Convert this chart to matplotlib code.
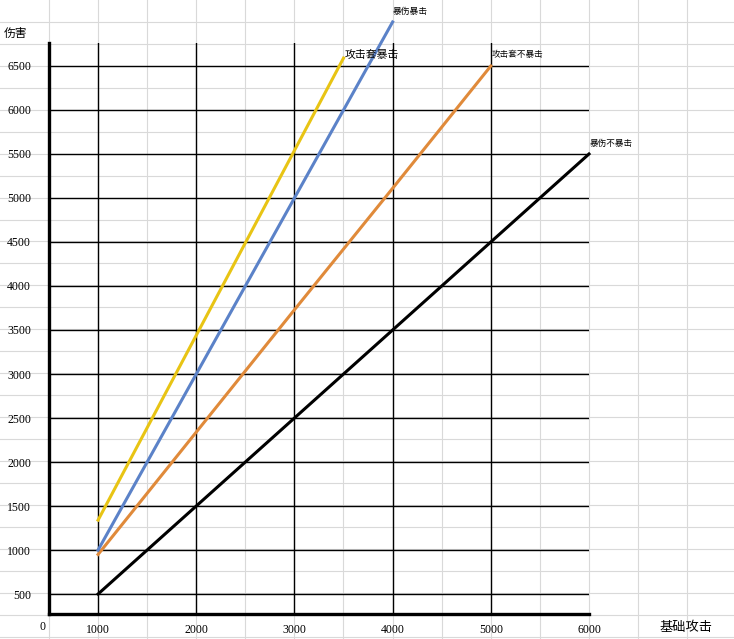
import matplotlib
matplotlib.use("Agg")
import matplotlib.pyplot as plt

plt.rcParams['font.family'] = ['Liberation Serif', 'Noto Sans CJK SC', 'DejaVu Sans']

# data
atk = [1000, 2000, 3000, 4000, 5000, 6000]
crit_dmg_no_crit = [500, 1500, 2500, 3500, 4500, 5500]      # 暴伤不暴击
atk_set_no_crit_x = [1000, 2000, 3000, 4000, 5000]
atk_set_no_crit = [950, 2340, 3730, 5110, 6500]             # 攻击套不暴击
crit_dmg_crit_x = [1000, 2000, 3000, 4000]
crit_dmg_crit = [1000, 3000, 5000, 7000]                    # 暴伤暴击
atk_set_crit_x = [1000, 2000, 3000, 3500]
atk_set_crit = [1340, 3440, 5540, 6590]                     # 攻击套暴击

yticks = list(range(500, 7000, 500))
xticks = [1000, 2000, 3000, 4000, 5000, 6000]

W, H = 734, 639
fig = plt.figure(figsize=(W / 100, H / 100), dpi=100)

# spreadsheet cell lines in the background
bg = fig.add_axes([0, 0, 1, 1])
bg.set_xlim(0, W)
bg.set_ylim(H, 0)
bg.axis('off')
for k in range(1, 15):
    bg.axvline(49.07 * k, color='#d9d9d9', lw=0.8)
for k in range(1, 30):
    bg.axhline(21.95 * k, color='#d9d9d9', lw=0.8)

def px(x, y):
    return x / W, 1 - y / H

# chart area in pixels
L, R, T, B = 49, 589, 43, 614
ax = fig.add_axes([L / W, 1 - B / H, (R - L) / W, (B - T) / H])
ax.patch.set_alpha(0)
ax.set_xlim(500, 6000)
ax.set_ylim(273, 6761)

for y in yticks:
    ax.axhline(y, color='black', lw=1.0, zorder=1)
for x in xticks[:-1]:
    ax.axvline(x, color='black', lw=1.0, zorder=1)

ax.plot(atk, crit_dmg_no_crit, color='black', lw=2.2, clip_on=False, zorder=3)
ax.plot(atk_set_no_crit_x, atk_set_no_crit, color='#e08a3a', lw=2.2, clip_on=False, zorder=3)
ax.plot(crit_dmg_crit_x, crit_dmg_crit, color='#5b82c8', lw=2.2, clip_on=False, zorder=3)
ax.plot(atk_set_crit_x, atk_set_crit, color='#e8c414', lw=2.2, clip_on=False, zorder=3)

for s in ['top', 'right']:
    ax.spines[s].set_visible(False)
for s in ['left', 'bottom']:
    ax.spines[s].set_linewidth(2.4)
    ax.spines[s].set_zorder(4)

ax.set_yticks(yticks)
ax.set_yticklabels([str(v) for v in yticks], fontsize=8.5)
ax.set_xticks(xticks)
ax.set_xticklabels([str(v) for v in xticks], fontsize=8.5)
ax.tick_params(length=0)
ax.tick_params(axis='y', pad=13)
ax.tick_params(axis='x', pad=7)

cjk = ['Noto Sans CJK SC', 'DejaVu Sans']
fig.text(*px(43, 627), '0', fontsize=8.5, ha='center', va='center')
fig.text(*px(4, 33), '伤害', fontsize=8.5, family=cjk, va='center')
fig.text(*px(660, 627), '基础攻击', fontsize=9.5, family=cjk, va='center')
fig.text(*px(393, 11), '暴伤暴击', fontsize=6.3, family=cjk, va='center')
fig.text(*px(345, 55), '攻击套暴击', fontsize=7.8, family=cjk, va='center')
fig.text(*px(492, 55), '攻击套不暴击', fontsize=6.2, family=cjk, va='center')
fig.text(*px(590, 143), '暴伤不暴击', fontsize=6.2, family=cjk, va='center')

fig.savefig('out.png', dpi=100, facecolor='white')
